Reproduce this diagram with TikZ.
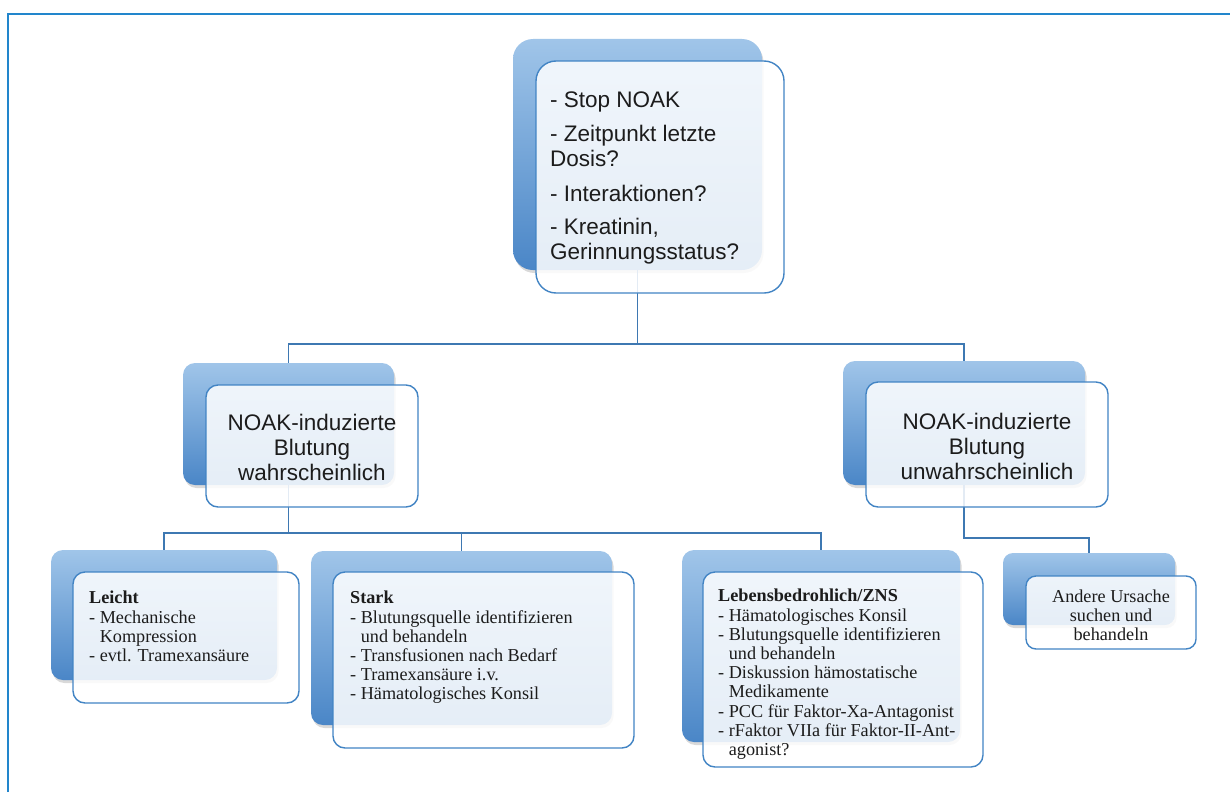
\documentclass[tikz,border=0pt]{standalone}
\usepackage{fontspec}
\setmainfont{Liberation Serif}
\newfontfamily\arialfont{Liberation Sans}
\usetikzlibrary{shadows,fit,calc}
\definecolor{frameblue}{RGB}{34,134,204}
\definecolor{lineblue}{RGB}{62,120,178}
\definecolor{edgeblue}{RGB}{66,132,196}
\definecolor{backtop}{RGB}{160,197,233}
\definecolor{backbot}{RGB}{74,134,199}
\definecolor{txt}{RGB}{28,28,28}
\tikzset{
  backbox/.style={rounded corners=#1, top color=backtop, bottom color=backbot, draw=none, inner sep=0pt,
    drop shadow={opacity=0.3, shadow xshift=1.5pt, shadow yshift=-3pt}},
  frontbox/.style={rounded corners=#1, draw=edgeblue, line width=1.4pt, fill=white, fill opacity=0.86,
    text opacity=1, inner sep=0pt},
  conn/.style={draw=lineblue, line width=1.4pt},
  frameline/.style={draw=frameblue, line width=2.5pt},
  sanstext/.style={text=txt, inner sep=0pt, font=\arialfont\fontsize{22.5}{25}\selectfont},
  seriftext/.style={text=txt, inner sep=0pt, align=left, anchor=north west, font=\fontsize{18.2}{19.2}\selectfont},
}
\begin{document}
\begin{tikzpicture}[x=1pt,y=-1pt]
\useasboundingbox (0,0) rectangle (1230,792);
% frame
\coordinate (fbl) at (8,792);
\coordinate (ftl) at (8,14);
\coordinate (ftr) at (1230,14);
\draw[frameline] (fbl) -- (ftl) -- (ftr);

% back boxes
\node[backbox=20pt, fit={(513,39) (762,270)}] (topB) {};
\node[backbox=12pt, fit={(183,363) (394,485)}] (leftB) {};
\node[backbox=12pt, fit={(843,361) (1085,485)}] (rightB) {};
\node[backbox=12pt, fit={(51,550) (277,680)}] (leichtB) {};
\node[backbox=12pt, fit={(311,551) (612,725)}] (starkB) {};
\node[backbox=12pt, fit={(682,550) (960,742)}] (lebensB) {};
\node[backbox=10pt, fit={(1003,553) (1175,625)}] (andereB) {};

% connectors
\coordinate (bus1) at (0,344);
\coordinate (bus2) at (0,533);
\coordinate (bus3) at (0,538);
\draw[conn] (topB.south) -- (topB.south |- bus1) -| (leftB.north);
\draw[conn] (topB.south |- bus1) -| (rightB.north);
\draw[conn] (leftB.south) -- (leftB.south |- bus2) -| (leichtB.north);
\draw[conn] (leftB.south |- bus2) -| (starkB.north);
\draw[conn] (leftB.south |- bus2) -| (lebensB.north);
\draw[conn] (rightB.south) -- (rightB.south |- bus3) -| (andereB.north);

% front boxes
\node[frontbox=20pt, fit={(536,61) (784,293)}] (topF) {};
\node[frontbox=12pt, fit={(206,385) (418,507)}] (leftF) {};
\node[frontbox=12pt, fit={(866,382) (1108,507)}] (rightF) {};
\node[frontbox=12pt, fit={(73,572) (299,703)}] (leichtF) {};
\node[frontbox=12pt, fit={(333,572) (634,748)}] (starkF) {};
\node[frontbox=12pt, fit={(703,572) (983,767)}] (lebensF) {};
\node[frontbox=10pt, fit={(1026,576) (1196,649)}] (andereF) {};

% texts
\node[sanstext, align=left, anchor=west] (topT) at (550,178)
  {- Stop NOAK\\[9pt]- Zeitpunkt letzte\\Dosis?\\[10pt]- Interaktionen?\\[8pt]- Kreatinin,\\Gerinnungsstatus?};
\node[sanstext, align=center] (leftT) at (312,447) {NOAK-induzierte\\Blutung\\wahrscheinlich};
\node[sanstext, align=center] (rightT) at (987,446) {NOAK-induzierte\\Blutung\\unwahrscheinlich};

\node[seriftext] (leichtT) at (89,591)
  {\textbf{Leicht}\\- Mechanische\\\hphantom{- }Kompression\\- evtl. Tramexansäure};
\node[seriftext] (starkT) at (350,591)
  {\textbf{Stark}\\- Blutungsquelle identifizieren\\\hphantom{- }und behandeln\\- Transfusionen nach Bedarf\\- Tramexansäure i.v.\\- Hämatologisches Konsil};
\node[seriftext] (lebensT) at (718,589)
  {\textbf{Lebensbedrohlich/ZNS}\\- Hämatologisches Konsil\\- Blutungsquelle identifizieren\\\hphantom{- }und behandeln\\- Diskussion hämostatische\\\hphantom{- }Medikamente\\- PCC für Faktor-Xa-Antagonist\\- rFaktor VIIa für Faktor-II-Ant-\\\hphantom{- }agonist?};
\node[seriftext, align=center, anchor=center] (andereT) at (1111,615)
  {Andere Ursache\\suchen und\\behandeln};
\end{tikzpicture}
\end{document}
